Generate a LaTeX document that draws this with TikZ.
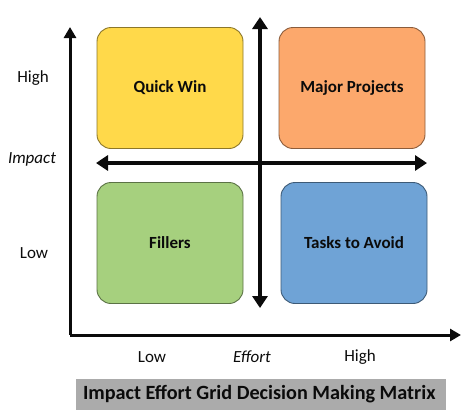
\documentclass[tikz,border=0pt]{standalone}
\usepackage{fontspec}
\setmainfont{Carlito}
\usetikzlibrary{arrows.meta}
\definecolor{quick}{HTML}{FFD94A}
\definecolor{major}{HTML}{FCA86C}
\definecolor{fill}{HTML}{A6D07E}
\definecolor{avoid}{HTML}{6FA3D6}
\definecolor{ink}{HTML}{0B0B0B}
\definecolor{titlebg}{HTML}{ABABAB}
\tikzset{
  every picture/.style={line join=round},
  quad/.style={draw=#1!55!black, fill=#1, rounded corners=14pt, line width=0.9pt,
    minimum width=146pt, minimum height=121pt, inner sep=0pt,
    font=\fontsize{17}{19}\selectfont\bfseries, text=ink,
    append after command={
      \pgfextra{\draw[#1!50!white, line width=1pt, rounded corners=11pt]
        ([shift={(3.5pt,3.5pt)}]\tikzlastnode.south west) rectangle
        ([shift={(-3.5pt,-3.5pt)}]\tikzlastnode.north east);}}},
  axis/.style={-{Triangle[length=11pt,width=12pt]}, draw=ink, line width=3pt},
  mid/.style={{Triangle[length=12pt,width=15pt]}-{Triangle[length=12pt,width=15pt]}, draw=ink, line width=4.5pt},
  lbl/.style={font=\fontsize{17}{19}\selectfont, text=ink},
  ilbl/.style={lbl, font=\fontsize{17}{19}\selectfont\itshape},
  titlebox/.style={fill=titlebg, minimum width=370pt, minimum height=31pt, inner sep=0pt},
  titletext/.style={anchor=west, inner sep=0pt, font=\fontsize{20.2}{22}\selectfont\bfseries, text=ink},
}
\begin{document}
\begin{tikzpicture}[x=1pt, y=-1pt]
  \useasboundingbox (0,0) rectangle (474,418);
  % corner of the two axes
  \coordinate (origin) at (70,335);
  \coordinate (ytop) at (70,27);
  \coordinate (xend) at (461,335);
  \draw[axis] (origin) -- (ytop);
  \draw[axis] (origin) -- (xend);

  % the four quadrants
  \node[quad=quick] (qw) at (170,88) {Quick Win};
  \node[quad=major] (mp) at (352,88) {Major Projects};
  \node[quad=fill] (fl) at (170,243) {Fillers};
  \node[quad=avoid] (ta) at (354,243) {Tasks to Avoid};

  % dividing arrows
  \coordinate (vtop) at (260,17);
  \coordinate (vbot) at (260,308);
  \coordinate (hleft) at (96,163);
  \coordinate (hright) at (427,163);
  \draw[mid] (vbot) -- (vtop);
  \draw[mid] (hleft) -- (hright);

  % axis labels
  \node[lbl] (ihigh) at (33,78) {High};
  \node[ilbl] (imp) at (32,159) {Impact};
  \node[lbl] (ilow) at (34,253) {Low};
  \node[lbl] (elow) at (152,357) {Low};
  \node[ilbl] (eff) at (252,357) {Effort};
  \node[lbl] (ehigh) at (360,357) {High};

  \node[titlebox] (title) at (261,394) {};
  \node[titletext] (titlelbl) at ([xshift=7pt]title.west) {Impact Effort Grid Decision Making Matrix};
\end{tikzpicture}
\end{document}
